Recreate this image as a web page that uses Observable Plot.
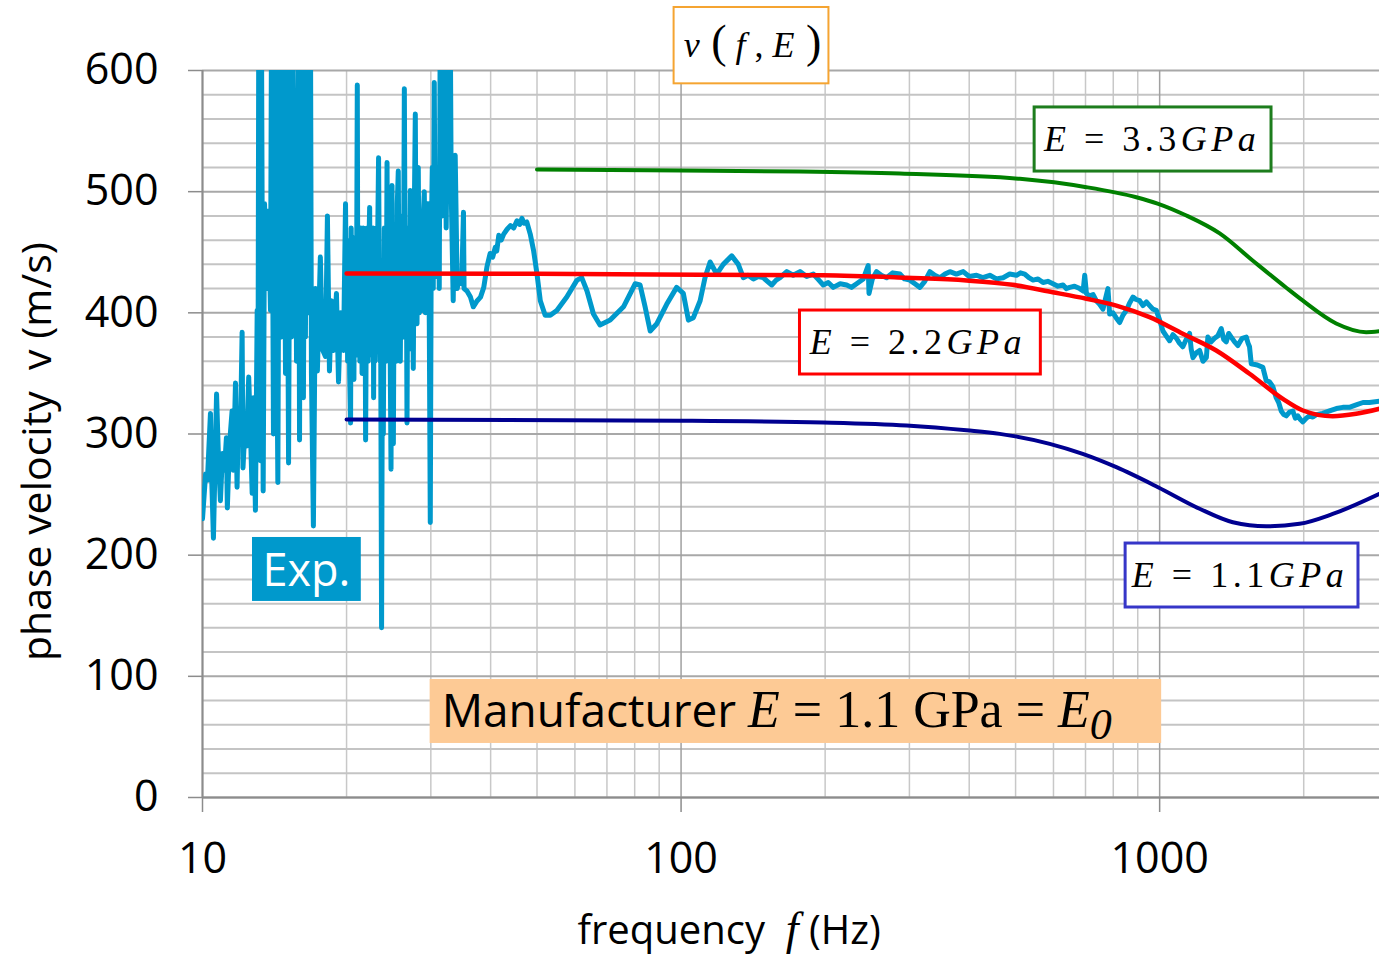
<!DOCTYPE html>
<html><head><meta charset="utf-8">
<script src="https://cdn.jsdelivr.net/npm/d3@7"></script>
<script src="https://cdn.jsdelivr.net/npm/@observablehq/plot@0.6"></script>
<style>html,body{margin:0;padding:0;background:#fff;overflow:hidden}</style>
</head><body><div id="chart"></div>
<script>
// ---------- DATA ----------
const yMajorTicks = [0, 100, 200, 300, 400, 500, 600];
const yMinorTicks = [20,40,60,80,120,140,160,180,220,240,260,280,320,340,360,380,420,440,460,480,520,540,560,580];
const xMajorTicks = [10, 100, 1000];
const xMinorTicks = [20,30,40,50,60,70,80,90,200,300,400,500,600,700,800,900,2000];

// experimental phase velocity [frequency Hz, velocity m/s]
const expData = [
[10.00,230],[10.15,267],[10.24,262],[10.39,317],[10.44,270],[10.54,214],[10.70,333],[10.80,280],[10.90,245],[11.01,284],
[11.11,270],[11.22,297],[11.27,239],[11.38,290],[11.53,319],[11.60,270],[11.72,342],[11.81,256],[11.89,320],[12.00,300],
[12.10,384],[12.15,272],[12.30,314],[12.36,290],[12.49,347],[12.60,300],[12.70,251],[12.78,330],[12.90,237],[13.01,402],
[13.06,320],[13.11,650],[13.22,278],[13.28,640],[13.39,253],[13.48,490],[13.61,420],[13.74,484],[13.87,402],[13.94,650],
[14.07,300],[14.14,650],[14.28,420],[14.37,260],[14.49,650],[14.63,380],[14.77,650],[14.91,350],[14.98,650],[15.13,276],
[15.27,650],[15.35,380],[15.42,650],[15.57,400],[15.64,557],[15.72,360],[15.87,650],[15.95,295],[16.02,560],[16.18,650],
[16.25,330],[16.33,515],[16.41,380],[16.49,650],[16.65,400],[16.81,650],[16.89,350],[17.05,224],[17.21,420],[17.38,352],
[17.63,446],[17.80,370],[18.07,364],[18.24,480],[18.42,352],[18.60,410],[18.78,369],[19.05,416],[19.24,343],[19.43,400],
[19.71,369],[19.90,490],
[20.00,390],[20.05,460],[20.10,360],[20.19,430],[20.25,450],[20.30,350],[20.39,309],[20.45,470],[20.52,370],[20.59,440],
[20.65,455],[20.72,345],[20.80,462],[20.89,377],[20.95,365],[21.00,450],[21.06,588],[21.12,380],[21.19,420],[21.25,470],
[21.32,360],[21.40,470],[21.48,460],[21.55,350],[21.61,380],[21.68,470],[21.75,370],[21.85,455],[21.92,295],[21.98,380],
[22.03,458],[22.10,470],[22.20,360],[22.28,460],[22.35,487],[22.42,365],[22.50,470],[22.56,400],[22.65,380],[22.74,470],
[22.78,330],[22.85,460],[22.92,360],[23.00,440],[23.08,470],[23.15,370],[23.22,455],[23.33,528],[23.38,470],[23.45,380],
[23.50,360],[23.56,400],[23.67,140],
[23.78,420],[23.87,300],[23.99,470],[24.10,450],[24.19,360],[24.30,524],[24.39,370],[24.45,380],
[24.57,480],[24.69,350],[24.77,271],[24.89,505],[24.96,380],[25.05,292],[25.17,470],[25.29,460],[25.41,360],[25.53,490],
[25.65,517],[25.78,370],[25.90,360],[26.03,480],[26.15,480],[26.28,380],[26.41,585],[26.53,400],[26.66,460],[26.75,309],
[26.85,450],[26.92,470],[27.05,370],[27.18,501],[27.31,380],[27.44,470],[27.57,354],[27.70,480],[27.84,564],[27.97,400],
[28.07,391],[28.17,470],[28.24,520],[28.38,400],[28.51,420],[28.65,480],[28.75,402],[28.86,470],[29.07,500],[29.21,400],
[29.35,430],[29.49,490],[29.63,490],[29.78,390],[29.92,227],[30.06,460],[30.21,520],[30.35,420],[30.50,590],[30.64,430],
[30.79,430],[30.94,500],[31.09,520],[31.24,420],[31.39,650],[31.69,480],[32.00,650],[32.30,470],[32.62,650],[32.78,520],
[32.93,650],[33.09,500],[33.41,410],[33.73,530],[34.06,420],[34.39,430],
[34.8,424],[35.1,483],[35.2,420],[35.7,418],[36.3,413],[36.8,405],[37.5,410],[38.1,413],[38.7,421],[39.3,438],
[39.9,449],[40.4,446],[40.9,454],[41.2,451],[41.6,464],[42.1,460],[42.6,465],[43.3,469],[44.0,472],[44.7,470],[45.4,476],[46.0,473],[46.5,478],[47.0,474],[47.6,475],[48.4,465],[49.2,451],
[50.0,432],[50.8,410],[52.0,398],[53.3,398],[55.0,402],[57.7,413],[60.6,427],[62.0,429],[63.6,418],[65.6,399],
[67.7,390],[71.1,394],[75.8,405],[80.2,424],[82.1,423],[84.1,405],[86.2,385],[89.0,391],[93.3,407],[97.9,421],
[101.1,416],[103.6,394],[106.1,396],[109.6,410],[112.2,429],[115.0,442],[118.7,432],[122.5,440],[127.6,447],[131.7,440],
[134.9,429],[138.0,431],[141.6,428],[145.0,430],[148.5,429],[151.5,426],[154.7,423],[158.0,427],[161.0,429],[166.3,434],[171.5,431],[177.2,434],[183.0,430],[188.9,432],[193.0,428],[198.2,423],[203.0,425],[208.0,421],
[215.0,424],[221.8,423],[227.0,421],[232.7,424],[240.3,428],[246.0,439],[247.0,416],[251.0,428],[256.2,434],[262.0,431],[268.8,429],[277.0,433],[286.6,432],[293.0,428],[300.7,427],[308.0,424],[315.5,421],
[323.0,426],[331.1,434],[339.0,431],[347.4,429],[356.0,432],[364.5,434],[376.0,432],[388.6,434],[400.0,430],[414.4,431],[427.0,429],[441.7,431],[456.0,428],[470.9,429],[486.0,432],[502.1,431],[512.0,433],[522.6,432],[533.0,429],[543.9,427],
[557.0,428],[570.6,425],[584.0,426],[598.6,424],[613.0,422],[628.2,423],[638.0,420],[648.7,421],[664.0,422],[680.7,420],[692.0,418],[697.3,431],[703.1,416],[714.0,414],[726.0,415],[737.0,410],[749.3,407],[761.3,403],[779.8,420],
[786.2,399],[798.8,400],[811.0,396],[825.0,392],[838.0,398],[852.0,402],[865.0,408],[879.6,413],[893.0,411],[908.2,410],[923.0,406],[938.2,409],[953.1,406],[968.0,403],[984.2,402],[1000,394],[1016,385],
[1032,381],[1049,377],[1066,382],[1084,379],[1100,375],[1118,372],[1136,378],[1155,383],[1164,370],[1174,363],[1193,367],[1212,369],[1232,360],[1252,363],[1261,380],[1281,376],[1302,379],[1323,381],[1345,387],
[1361,378],[1378,376],[1394,383],[1411,380],[1434,376],[1457,373],[1487,379],[1517,380],[1530,375],[1541,372],[1554,358],[1600,357],[1643,355],[1670,344],[1697,343],[1724,339],[1752,330],
[1773,326],[1795,319],[1817,316],[1839,315],[1868,318],[1898,319],[1921,313],[1944,315],[1968,312],[1992,310],[2024,313],[2057,315],[2090,314],[2124,316],[2190,317],[2264,319],[2340,321],[2414,322],[2490,322],[2574,324],
[2660,326],[2744,326],[2880,327]
];

// model curves v(f, E)
const e33Data = [[50,518.3],[100,517.5],[177,516.6],[286.6,514.9],[510.4,510.6],[703,503.7],[894,495.4],[990,490.2],
  [1137,480.3],[1335,465.5],[1564,443.2],[1839,420.7],[1989,410.2],[2338,391.2],[2701,384],[2880,384.8]];
const e22Data = [[20,432.4],[50,432.2],[109.6,431.4],[198,431],[295.9,428.9],[395,426.7],[493,423.1],[597.7,417],
  [703,411.6],[812,406],[953,396.4],[1118,382.7],[1313,368.9],[1541,349.7],[1809,329],[1992,319.4],[2300,314.7],[2574,316.7],[2880,320.8]];
const e11Data = [[20,312],[100,311],[198,309.5],[296,307],[395,303],[463.4,300.1],[589.3,291.9],[690.6,283.6],[812,272.6],
  [992,256.1],[1212,238.3],[1422,227.2],[1670,223.9],[1960,225.9],[2300,234],[2880,250.6]];

const labelVfE = "v(f,E)";
const labelE33 = "E = 3.3 GPa";
const labelE22 = "E = 2.2 GPa";
const labelE11 = "E = 1.1 GPa";
const labelExp = "Exp.";
const labelMan = "Manufacturer E = 1.1 GPa = E0";
const labelX = "frequency f (Hz)";
const labelY = "phase velocity  v (m/s)";

// ---------- CHART ----------
const toRows = arr => arr.map(([f, v]) => ({f, v}));
const SERIF = "Liberation Serif, DejaVu Serif, serif";
const SANS = "Open Sans, sans-serif";

function box(f1, f2, v1, v2, opts) {
  return Plot.rect([{f1, f2, v1, v2}], {x1: "f1", x2: "f2", y1: "v1", y2: "v2", ...opts});
}
function label(f, v, text, opts) {
  return Plot.text([{f, v, text}], {x: "f", y: "v", text: "text", lineAnchor: "middle", ...opts});
}

const svg = Plot.plot({
  width: 1379, height: 955,
  marginLeft: 202, marginRight: 0, marginTop: 70, marginBottom: 158,
  x: {type: "log", domain: [10, 2880]},
  y: {domain: [0, 600]},
  style: {fontFamily: SANS, fontSize: "40px", background: "white", color: "black", overflow: "visible"},
  marks: [
    Plot.ruleX(xMinorTicks, {stroke: "#c8c8c8", strokeWidth: 1.5}),
    Plot.ruleY(yMinorTicks, {stroke: "#c4c4c4", strokeWidth: 2}),
    Plot.ruleY(yMajorTicks, {stroke: "#a8a8a8", strokeWidth: 2}),
    Plot.ruleX(xMajorTicks, {stroke: "#a0a0a0", strokeWidth: 1.5}),
    Plot.ruleX([10], {stroke: "#8c8c8c", strokeWidth: 2}),
    Plot.ruleY([0], {stroke: "#8c8c8c", strokeWidth: 2}),
    Plot.axisY(yMajorTicks, {tickSize: 14, tickPadding: 30, fontSize: 43, stroke: "#8c8c8c", strokeWidth: 1.5, tickFormat: d => String(d), label: null}),
    Plot.axisX(xMajorTicks, {tickSize: 15, tickPadding: 30, fontSize: 43, stroke: "#8c8c8c", strokeWidth: 1.5, tickFormat: d => String(d), label: null}),
    Plot.line(toRows(expData), {x: "f", y: "v", stroke: "#0099cc", strokeWidth: 5, clip: true, strokeLinejoin: "round", strokeLinecap: "round"}),
    Plot.line(toRows(e11Data), {x: "f", y: "v", stroke: "#000090", strokeWidth: 4, curve: "monotone-x"}),
    Plot.line(toRows(e33Data), {x: "f", y: "v", stroke: "#008000", strokeWidth: 4, curve: "monotone-x"}),
    Plot.line(toRows(e22Data), {x: "f", y: "v", stroke: "#ff0000", strokeWidth: 4.5, curve: "monotone-x"}),
    // annotation boxes
    box(96.7, 203.7, 589, 652, {fill: "white", stroke: "#f5a431", strokeWidth: 2}),
    box(548, 1713, 516.6, 569.5, {fill: "white", stroke: "#1d7d1d", strokeWidth: 3}),
    box(177.2, 564.6, 349.1, 401.9, {fill: "white", stroke: "#ff0000", strokeWidth: 3}),
    box(849, 2603, 156.8, 209.6, {fill: "white", stroke: "#3636c8", strokeWidth: 3}),
    box(12.72, 21.47, 161.8, 214.6, {fill: "#0099cc"}),
    box(29.9, 1009.7, 44.6, 97.4, {fill: "#fdca95"}),
    label(141, 620.6, labelVfE, {fontFamily: SERIF, fontSize: 36, fill: "black"}),
    label(964.5, 543, labelE33, {fontFamily: SERIF, fontSize: 36, fill: "black"}),
    label(312.5, 375.5, labelE22, {fontFamily: SERIF, fontSize: 36, fill: "black"}),
    label(1472, 183.2, labelE11, {fontFamily: SERIF, fontSize: 36, fill: "black"}),
    label(16.49, 186.5, labelExp, {fontFamily: SANS, fontSize: 45, fill: "white"}),
    label(31.6, 70.2, labelMan, {fontFamily: SANS, fontSize: 46, fill: "black", textAnchor: "start"}),
    label(126, -110, labelX, {fontFamily: SANS, fontSize: 40, fill: "black"}),
    label(4.52, 285.5, labelY, {fontFamily: SANS, fontSize: 41, fill: "black", rotate: -90})
  ]
});

// rich text (italic math symbols, subscripts)
const S = (t, o = {}) => ({t, ...o});
const eqn = (n) => ({ls: 4.5, segs: [S("E", {it: 1}), S(" = "), S(n), S("GPa", {it: 1})]});
const rich = new Map([
  [labelVfE, {ls: 0, segs: [S("v", {it: 1}), S(" (", {fs: 46}), S(" f", {it: 1}), S(" ,"), S(" E", {it: 1}), S(" )", {fs: 46})]}],
  [labelE33, eqn("3.3")],
  [labelE22, eqn("2.2")],
  [labelE11, eqn("1.1")],
  [labelMan, {segs: [S("Manufacturer ", {ff: SANS}), S("E", {it: 1, fs: 52}), S(" = 1.1 GPa = ", {fs: 52}), S("E", {it: 1, fs: 52}), S("0", {it: 1, fs: 44, dy: 12})]}],
  [labelX, {segs: [S("frequency  ", {ff: SANS}), S("f", {it: 1, fs: 46}), S(" (Hz)", {ff: SANS})]}]
]);
d3.select(svg).selectAll("text").each(function () {
  const r = rich.get(this.textContent);
  if (!r) return;
  const t = d3.select(this);
  t.text(null).style("white-space", "pre");
  if (r.ls) t.attr("letter-spacing", r.ls);
  for (const s of r.segs) {
    const ts = t.append("tspan").text(s.t).attr("font-family", s.ff || SERIF);
    if (s.it) ts.attr("font-style", "italic");
    if (s.fs) ts.attr("font-size", s.fs);
    if (s.dy) ts.attr("dy", s.dy);
  }
});

document.getElementById("chart").appendChild(svg);
</script></body></html>
